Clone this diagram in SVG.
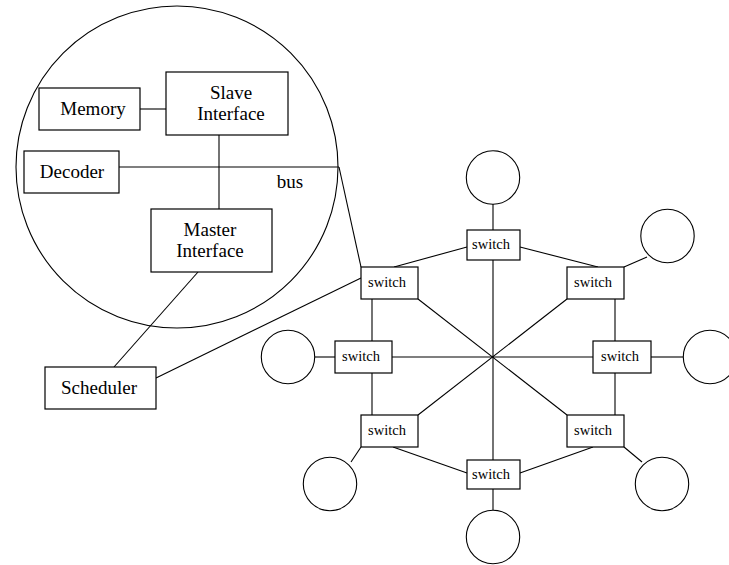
<svg xmlns="http://www.w3.org/2000/svg" width="729" height="565" viewBox="0 0 729 565">
<style>
.n{fill:#fff;stroke:#000;stroke-width:1.2}
.c{fill:none;stroke:#000;stroke-width:1.1}
.l{stroke:#000;stroke-width:1.1;fill:none}
.t{font-family:"Liberation Serif",serif;font-size:19px;text-anchor:middle;fill:#000}
.s{font-family:"Liberation Serif",serif;font-size:14.5px;text-anchor:middle;fill:#000}
</style>
<rect width="729" height="565" fill="#fff"/>
<g id="zoom-circle"><circle class="c" cx="177" cy="167" r="161"/></g>
<g id="connectors">
<line class="l" x1="140" y1="109" x2="166" y2="109"/>
<line class="l" x1="119" y1="167" x2="339" y2="167"/>
<line class="l" x1="219" y1="135" x2="219" y2="209"/>
<line class="l" x1="339" y1="167" x2="361" y2="267"/>
<line class="l" x1="198" y1="272" x2="114" y2="367"/>
<line class="l" x1="156" y1="378" x2="361" y2="278"/>
<line class="l" x1="493" y1="260" x2="493" y2="460"/>
<line class="l" x1="392" y1="357" x2="593" y2="357"/>
<line class="l" x1="418" y1="299" x2="567" y2="415"/>
<line class="l" x1="567" y1="299" x2="418" y2="415"/>
<line class="l" x1="467" y1="247" x2="394" y2="267"/>
<line class="l" x1="520" y1="247" x2="598" y2="267"/>
<line class="l" x1="372" y1="299" x2="372" y2="341"/>
<line class="l" x1="372" y1="373" x2="372" y2="415"/>
<line class="l" x1="615" y1="299" x2="615" y2="341"/>
<line class="l" x1="615" y1="373" x2="615" y2="415"/>
<line class="l" x1="393" y1="447" x2="467" y2="473"/>
<line class="l" x1="593" y1="447" x2="520" y2="473"/>
<line class="l" x1="493" y1="204" x2="493" y2="230"/>
<line class="l" x1="624" y1="267" x2="647" y2="257"/>
<line class="l" x1="315" y1="357" x2="335" y2="357"/>
<line class="l" x1="651" y1="357" x2="683" y2="357"/>
<line class="l" x1="361" y1="447" x2="351" y2="462"/>
<line class="l" x1="624" y1="447" x2="642" y2="462"/>
<line class="l" x1="493" y1="489" x2="493" y2="510"/>
</g>
<g id="memory"><rect class="n" x="39" y="88" width="101" height="42"/><text class="t" x="93" y="115">Memory</text></g>
<g id="slave"><rect class="n" x="166" y="72" width="122" height="63"/><text class="t" x="231" y="99">Slave</text><text class="t" x="231" y="120">Interface</text></g>
<g id="decoder"><rect class="n" x="24" y="151" width="95" height="42"/><text class="t" x="72" y="178">Decoder</text></g>
<g id="master"><rect class="n" x="151" y="209" width="121" height="63"/><text class="t" x="210" y="236">Master</text><text class="t" x="210" y="257">Interface</text></g>
<g id="bus-label"><text class="t" x="290" y="188">bus</text></g>
<g id="scheduler"><rect class="n" x="45" y="367" width="111" height="42"/><text class="t" x="99" y="394">Scheduler</text></g>
<g id="sw-top"><rect class="n" x="467" y="230" width="53" height="30"/><text class="s" x="491" y="249">switch</text></g>
<g id="sw-ul"><rect class="n" x="361" y="267" width="57" height="32"/><text class="s" x="387" y="287">switch</text></g>
<g id="sw-ur"><rect class="n" x="567" y="267" width="57" height="32"/><text class="s" x="593" y="287">switch</text></g>
<g id="sw-l"><rect class="n" x="335" y="341" width="57" height="32"/><text class="s" x="361" y="361">switch</text></g>
<g id="sw-r"><rect class="n" x="593" y="341" width="58" height="32"/><text class="s" x="620" y="361">switch</text></g>
<g id="sw-ll"><rect class="n" x="361" y="415" width="57" height="32"/><text class="s" x="387" y="435">switch</text></g>
<g id="sw-lr"><rect class="n" x="567" y="415" width="57" height="32"/><text class="s" x="593" y="435">switch</text></g>
<g id="sw-bot"><rect class="n" x="467" y="460" width="53" height="29"/><text class="s" x="491" y="479">switch</text></g>
<g id="c-top"><circle class="c" cx="493" cy="177.5" r="26.7"/></g>
<g id="c-ur"><circle class="c" cx="667.5" cy="236" r="26.7"/></g>
<g id="c-l"><circle class="c" cx="288" cy="357" r="26.7"/></g>
<g id="c-r"><circle class="c" cx="710" cy="357" r="26.7"/></g>
<g id="c-ll"><circle class="c" cx="330" cy="484" r="26.7"/></g>
<g id="c-lr"><circle class="c" cx="662" cy="484" r="26.7"/></g>
<g id="c-bot"><circle class="c" cx="493" cy="537" r="26.7"/></g>
</svg>
